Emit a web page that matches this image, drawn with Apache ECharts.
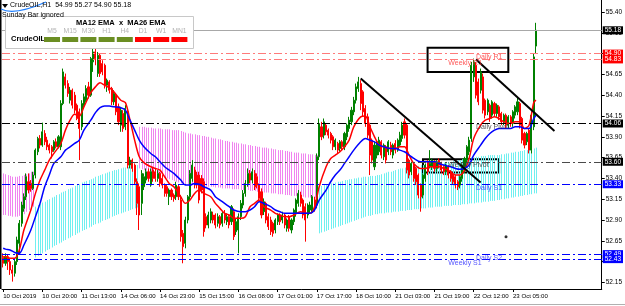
<!DOCTYPE html>
<html><head><meta charset="utf-8">
<script src="https://cdn.jsdelivr.net/npm/echarts@6/dist/echarts.min.js"></script>
<style>html,body{margin:0;padding:0;background:#fff}#c{width:625px;height:306px}</style>
</head><body><div id="c"></div>
<script>
// ---- data ----
const xTickLabels = ['10 Oct 2019','10 Oct 20:00','11 Oct 13:00','14 Oct 06:00','14 Oct 23:00','15 Oct 15:00','16 Oct 08:00','17 Oct 01:00','17 Oct 17:00','18 Oct 10:00','21 Oct 03:00','21 Oct 19:00','22 Oct 12:00','23 Oct 05:00'];
const barsPerLabel = 17;
const slotCount = 260;
const yTicks = [52.15,52.40,52.65,52.90,53.15,53.40,53.65,53.90,54.15,54.40,54.65,54.90,55.15,55.40];
// [open, close, low, high]
const ohlc = [
[52.45,52.38,52.33,52.50],[52.38,52.46,52.35,52.50],[52.46,52.40,52.30,52.49],[52.40,52.30,52.24,52.44],[52.30,52.26,52.16,52.36],
[52.26,52.40,52.22,52.44],[52.40,52.66,52.36,52.70],[52.62,52.86,52.48,52.90],[52.86,53.08,52.82,53.12],[53.04,53.18,53.00,53.22],
[53.18,53.42,53.14,53.46],[53.36,53.26,53.22,53.46],[53.34,53.28,53.24,53.38],[53.28,53.44,53.26,53.48],[53.44,53.74,53.40,53.76],
[53.72,53.88,53.68,53.90],[53.88,53.80,53.76,53.92],[53.80,53.96,53.78,54.07],[53.94,53.84,53.80,53.98],[53.86,53.78,53.74,53.90],
[53.80,53.74,53.70,53.82],[53.78,53.72,53.64,53.80],[53.74,53.84,53.72,53.86],[53.84,53.78,53.76,53.88],[53.78,53.90,53.76,53.92],
[53.78,54.30,53.74,54.34],[54.30,54.68,54.28,54.72],[54.62,54.52,54.48,54.66],[54.54,54.42,54.38,54.58],[54.34,54.46,54.30,54.50],
[54.46,54.28,54.24,54.48],[54.40,54.22,54.18,54.44],[54.28,54.12,54.10,54.30],[54.20,54.00,53.62,54.24],[54.02,54.30,53.98,54.34],
[54.28,54.38,54.24,54.42],[54.34,54.48,54.32,54.52],[54.50,54.40,54.36,54.56],[54.40,54.84,54.38,54.86],[54.80,54.92,54.68,54.96],
[54.92,54.84,54.76,55.04],[54.66,54.88,54.62,54.92],[54.88,54.66,54.62,54.90],[54.78,54.68,54.64,54.82],[54.76,54.52,54.48,54.78],
[54.52,54.58,54.44,54.60],[54.56,54.46,54.42,54.58],[54.48,54.32,54.28,54.50],[54.32,54.42,54.28,54.46],[54.40,54.20,54.16,54.42],
[54.26,54.08,54.04,54.30],[54.04,54.22,53.96,54.26],[54.18,54.00,53.96,54.22],[54.02,54.24,53.98,54.28],[54.20,53.56,53.52,54.24],
[53.56,53.62,53.52,53.66],[53.62,53.52,53.48,53.64],[53.56,53.36,53.32,53.58],[53.36,53.10,52.96,53.40],[53.30,52.96,52.78,53.34],
[53.10,53.46,52.96,53.50],[53.30,53.42,53.26,53.46],[53.38,53.48,53.34,53.52],[53.48,53.40,53.36,53.52],[53.32,53.48,53.30,53.52],
[53.50,53.40,53.36,53.54],[53.48,53.40,53.36,53.52],[53.40,53.46,53.36,53.50],[53.46,53.34,53.30,53.48],[53.40,53.32,53.28,53.44],
[53.32,53.22,53.18,53.34],[53.30,53.22,53.18,53.32],[53.18,53.26,53.08,53.28],[53.26,53.18,53.14,53.28],[53.20,53.16,53.12,53.22],
[53.18,53.32,53.14,53.36],[53.30,53.18,53.14,53.32],[53.14,52.70,52.64,53.20],[52.74,52.58,52.38,52.78],[52.62,52.90,52.56,52.94],
[52.90,53.18,52.86,53.20],[53.18,53.46,53.14,53.50],[53.40,53.56,53.36,53.62],[53.50,53.32,53.28,53.54],[53.44,53.32,53.28,53.48],
[53.44,53.14,53.10,53.48],[53.40,53.26,53.22,53.44],[53.36,52.76,52.70,53.40],[52.94,52.84,52.80,52.98],[52.84,52.96,52.80,53.00],
[52.90,53.00,52.86,53.04],[52.96,52.90,52.86,53.00],[52.96,52.84,52.80,52.98],[52.86,52.94,52.82,52.98],[52.94,52.84,52.80,52.96],
[52.86,52.98,52.82,53.00],[52.98,52.90,52.86,53.02],[52.88,52.94,52.84,52.98],[52.94,52.84,52.80,52.96],[52.88,53.06,52.84,53.08],
[53.00,52.70,52.66,53.04],[52.76,52.88,52.72,52.92],[52.78,52.94,52.50,52.98],[52.94,53.10,52.90,53.14],[53.08,53.22,53.04,53.26],
[53.22,53.34,53.18,53.38],[53.34,53.46,53.30,53.52],[53.46,53.38,53.34,53.50],[53.38,53.48,53.34,53.52],[53.46,53.30,53.26,53.50],
[53.42,53.32,53.28,53.46],[53.32,53.16,53.12,53.34],[53.24,52.96,52.92,53.28],[53.00,53.12,52.96,53.16],[53.10,52.90,52.86,53.12],
[52.94,52.82,52.78,52.98],[52.90,52.76,52.72,52.94],[52.86,52.74,52.70,52.88],[52.78,52.90,52.74,52.92],[52.88,52.96,52.84,52.98],
[52.96,52.88,52.84,52.98],[52.90,52.96,52.86,53.00],[52.96,52.84,52.80,52.98],[52.80,52.90,52.76,52.92],[52.94,52.80,52.76,52.96],
[52.78,52.90,52.74,52.92],[52.88,53.02,52.84,53.04],[52.98,53.14,52.94,53.16],[53.10,53.22,53.06,53.26],[53.20,53.10,53.06,53.24],
[53.14,52.96,52.92,53.16],[53.06,52.90,52.64,53.10],[52.96,53.08,52.92,53.10],[53.02,53.08,52.98,53.12],[53.02,53.18,52.98,53.20],
[53.14,53.04,53.00,53.18],[53.08,53.66,53.04,53.70],[53.66,54.06,53.62,54.12],[54.02,53.90,53.86,54.08],[53.92,54.08,53.88,54.12],
[54.04,53.96,53.92,54.06],[53.98,53.92,53.88,54.00],[53.94,53.86,53.82,53.96],[53.90,53.78,53.74,53.92],[53.78,53.86,53.74,53.88],
[53.82,53.74,53.70,53.84],[53.76,53.84,53.72,53.86],[53.84,53.78,53.74,53.86],[53.78,53.94,53.74,53.96],[53.90,54.04,53.86,54.06],
[54.00,54.10,53.96,54.14],[54.08,54.22,54.04,54.26],[54.20,54.34,54.16,54.38],[54.34,54.50,54.30,54.54],[54.48,54.56,54.44,54.62],
[54.54,54.30,54.22,54.58],[54.44,54.20,54.14,54.46],[54.24,54.06,54.02,54.28],[54.14,53.92,53.88,54.18],[54.04,53.68,53.44,54.06],
[53.86,53.62,53.58,53.88],[53.54,53.80,53.50,53.84],[53.68,53.84,53.64,53.86],[53.72,53.86,53.68,53.90],[53.84,53.68,53.64,53.86],
[53.66,53.80,53.62,53.82],[53.78,53.62,53.58,53.80],[53.72,53.84,53.68,53.86],[53.80,53.72,53.68,53.84],[53.68,53.80,53.64,53.82],
[53.82,53.74,53.70,53.86],[53.74,53.86,53.72,53.88],[53.80,53.92,53.78,53.96],[53.88,54.04,53.84,54.08],[54.08,53.92,53.88,54.12],
[54.04,53.50,53.46,54.06],[53.62,53.44,53.40,53.64],[53.48,53.58,53.44,53.60],[53.56,53.40,53.36,53.58],[53.52,53.36,53.32,53.54],
[53.44,53.20,53.16,53.46],[53.32,53.18,53.00,53.34],[53.20,53.44,53.16,53.46],[53.40,53.56,53.36,53.58],[53.60,53.48,53.44,53.62],
[53.54,53.58,53.52,53.74],[53.54,53.62,53.50,53.64],[53.60,53.52,53.48,53.62],[53.52,53.60,53.48,53.62],[53.62,53.56,53.52,53.64],
[53.58,53.50,53.46,53.60],[53.54,53.48,53.44,53.56],[53.48,53.56,53.44,53.58],[53.54,53.44,53.40,53.56],[53.48,53.40,53.36,53.50],
[53.44,53.36,53.32,53.46],[53.42,53.32,53.28,53.44],[53.36,53.30,53.26,53.38],[53.32,53.42,53.28,53.44],[53.40,53.56,53.36,53.58],
[53.50,53.64,53.46,53.66],[53.62,53.78,53.58,53.80],[53.72,53.86,53.68,53.90],[53.88,54.76,53.84,54.80],[54.62,54.80,54.56,54.84],
[54.76,54.40,54.36,54.80],[54.56,54.32,54.28,54.60],[54.46,54.68,54.42,54.72],[54.62,54.22,54.18,54.66],[54.34,54.16,54.12,54.36],
[54.20,54.34,54.16,54.36],[54.28,54.12,54.08,54.30],[54.16,54.32,54.12,54.34],[54.30,54.18,54.14,54.32],[54.18,54.28,54.14,54.30],
[54.26,54.14,54.10,54.28],[54.18,54.08,54.04,54.20],[54.08,54.16,54.04,54.18],[54.16,54.04,54.00,54.18],[54.04,54.14,54.00,54.16],
[54.14,54.06,54.02,54.16],[54.06,54.20,54.02,54.22],[54.16,54.26,54.12,54.28],[54.20,54.32,54.16,54.38],[54.30,54.04,54.00,54.32],
[54.12,53.86,53.82,54.14],[53.94,53.80,53.76,53.96],[53.84,53.94,53.80,53.96],[53.98,53.74,53.70,54.00],[53.74,54.16,53.70,54.20],
[54.02,54.86,53.98,54.90],[54.99,55.18,54.90,55.27]
];
const maIdx = [0,1,3,5,7,9,12,14,16,18, 20,22,25,27,29,31,33,35,38,40, 42,44,46,48,51,53,55,57,59,61, 64,66,68,70,72,74,77,79,81,83, 85,87,90,92,94,96,98,100,103,105, 107,109,111,113,116,118,120,122,124,126, 129,131,133,135,137,140,142,144,146,148, 150,152,155,157,159,161,163,165,168,170, 172,174,176,178,181,183,185,187,189,191, 194,196,198,200,202,204,207,209,211,213, 215,217,220,222,224,226,228,230, 231];
const ema12 = [52.46,52.46,52.44,52.44,52.54,52.78,53.02,53.22,53.38,53.50, 53.62,53.70,53.82,53.98,54.10,54.17,54.15,54.26,54.43,54.50, 54.55,54.52,54.49,54.44,54.34,54.31,54.10,53.86,53.66,53.59, 53.54,53.52,53.50,53.42,53.34,53.30,53.18,53.10,53.14,53.22, 53.26,53.22,53.18,53.10,53.04,52.98,52.96,52.92,52.92,52.94, 53.06,53.10,53.14,53.06,53.02,52.98,52.96,52.94,52.94,52.96, 53.00,52.98,52.98,53.06,53.30,53.54,53.64,53.68,53.72,53.78, 53.86,54.02,54.14,54.15,54.02,53.90,53.80,53.78,53.76,53.76, 53.78,53.78,53.68,53.58,53.52,53.52,53.54,53.54,53.54,53.52, 53.48,53.44,53.44,53.50,53.64,53.88,54.04,54.10,54.12,54.14, 54.12,54.08,54.06,54.08,54.08,54.00,54.04,54.31, 54.34];
const ema26 = [52.56,52.55,52.54,52.51,52.50,52.60,52.78,52.94,53.10,53.30, 53.44,53.58,53.66,53.74,53.78,53.82,53.86,53.98,54.10,54.19, 54.25,54.27,54.27,54.26,54.25,54.22,54.10,53.98,53.86,53.78, 53.70,53.66,53.60,53.54,53.50,53.46,53.38,53.32,53.32,53.34, 53.33,53.30,53.26,53.18,53.14,53.10,53.06,53.02,53.00,53.00, 53.02,53.06,53.12,53.10,53.06,53.02,53.00,52.98,52.98,52.98, 52.98,52.98,52.98,53.02,53.14,53.26,53.36,53.44,53.50,53.58, 53.66,53.74,53.84,53.88,53.86,53.84,53.80,53.78,53.76,53.76, 53.74,53.72,53.68,53.64,53.60,53.60,53.60,53.60,53.58,53.56, 53.54,53.52,53.51,53.52,53.56,53.68,53.80,53.88,53.94,53.98, 54.00,54.00,54.00,54.02,54.02,54.00,54.00,54.12, 54.16];
const spanA = [
52.96,52.96,52.95,52.95,52.94,52.94,52.94,52.95,52.96,52.97,53.00,53.02,53.04,53.06,
53.06,53.08,53.09,53.11,53.12,53.14,53.15,53.17,53.18,53.20,53.21,53.23,53.24,53.25,53.27,53.28,53.29,53.31,53.32,53.33,
53.35,53.36,53.37,53.38,53.39,53.40,53.42,53.43,53.44,53.45,53.46,53.47,53.48,53.49,53.50,53.50,53.51,53.52,53.53,53.53,
53.54,53.55,53.55,53.56,53.56,
53.52,53.51,53.50,53.49,53.48,53.47,53.46,53.45,53.44,53.43,53.42,53.41,53.40,53.39,53.38,53.37,53.36,53.35,53.34,53.34,
53.33,53.33,53.33,53.32,53.32,53.32,53.31,53.31,53.31,53.30,53.30,53.30,53.30,53.29,53.29,53.29,53.28,53.28,53.28,53.28,
53.27,53.27,53.27,53.27,53.26,53.26,53.26,53.26,53.25,53.25,53.25,53.24,53.24,53.24,53.23,53.23,53.23,53.22,53.22,53.22,
53.21,53.21,53.21,53.20,53.20,53.20,53.19,53.19,53.19,53.18,53.18,53.18,53.17,53.17,53.17,53.16,53.16,53.16,
53.30,53.31,53.32,53.32,53.33,53.34,53.34,53.35,53.36,53.36,53.37,53.38,53.38,53.39,53.39,53.40,53.40,53.41,53.41,53.42,
53.42,53.42,53.43,53.43,53.43,53.44,53.44,53.45,53.46,53.47,53.48,53.48,53.49,53.50,53.51,53.52,53.52,53.53,53.53,53.54,
53.54,53.55,53.55,53.55,53.56,53.56,53.57,53.57,53.57,53.58,53.58,53.58,53.59,53.59,53.59,53.60,53.60,53.60,53.61,53.61,
53.62,53.62,53.63,53.63,53.64,53.64,53.65,53.65,53.66,53.66,53.67,53.67,53.67,53.68,53.68,53.68,53.68,53.68,53.68,53.69,
53.69,53.70,53.70,53.71,53.71,53.72,53.72,53.73,53.73,53.74,53.74,53.75,53.75,53.76,53.77
];
const spanB = [
53.46,53.45,53.44,53.43,53.42,53.42,53.42,53.43,53.43,53.44,53.45,53.46,53.48,53.48,
52.45,52.47,52.49,52.50,52.52,52.54,52.55,52.57,52.59,52.60,52.62,52.63,52.65,52.66,52.68,52.69,52.71,52.72,52.74,52.75,
52.77,52.78,52.79,52.81,52.82,52.84,52.85,52.86,52.87,52.89,52.90,52.91,52.92,52.94,52.95,52.96,52.97,52.98,52.99,53.00,
53.01,53.02,53.03,53.04,53.05,
54.02,54.02,54.02,54.01,54.01,54.01,54.00,54.00,54.00,54.00,53.99,53.99,53.99,53.99,53.98,53.98,53.98,53.98,53.97,53.96,
53.95,53.94,53.94,53.93,53.93,53.92,53.92,53.91,53.91,53.90,53.90,53.89,53.88,53.88,53.87,53.87,53.86,53.85,53.85,53.84,
53.84,53.83,53.83,53.82,53.82,53.81,53.81,53.80,53.80,53.79,53.79,53.78,53.78,53.77,53.77,53.77,53.76,53.76,53.75,53.75,
53.74,53.74,53.74,53.73,53.73,53.72,53.72,53.71,53.71,53.71,53.70,53.70,53.70,53.69,53.69,53.69,53.68,53.68,
52.74,52.75,52.76,52.77,52.78,52.79,52.80,52.81,52.82,52.83,52.84,52.85,52.86,52.87,52.88,52.89,52.90,52.91,52.92,52.93,
52.94,52.95,52.95,52.96,52.97,52.97,52.98,52.98,52.98,52.99,52.99,52.99,53.00,53.00,53.00,53.01,53.01,53.01,53.02,53.02,
53.02,53.03,53.03,53.03,53.04,53.04,53.04,53.05,53.05,53.05,53.06,53.06,53.06,53.06,53.07,53.07,53.07,53.07,53.08,53.08,
53.08,53.08,53.09,53.09,53.09,53.10,53.10,53.10,53.11,53.11,53.11,53.12,53.12,53.12,53.13,53.13,53.13,53.14,53.14,53.15,
53.15,53.16,53.16,53.17,53.17,53.18,53.18,53.19,53.19,53.20,53.20,53.21,53.21,53.22,53.22
];
const levelNames = ['Daily R1','Weekly R1','Daily Pivot','Weekly Pivot','Daily S1','Daily S2','Weekly S1'];
const levelValues = [54.90,54.83,54.06,53.60,53.33,52.49,52.43];
const lastPrice = 55.18;
const header = {symbol:'CrudeOIL', tf:'H1', o:54.99, h:55.27, l:54.90, c:55.18};
const trendLines = [[[155,54.60],[207,53.35]],[[205,54.83],[239,53.97]]];
const boxes = [[[184,54.97],[219,54.68]],[[182,53.63],[215,53.47]]];
const objectDots = [[218,52.70]];
const timeframes = ['M5','M15','M30','H1','H4','D1','W1','MN1'];
const tfTrend = ['up','up','up','up','up','down','down','down'];

// ---- build ----
const FONT = 'Liberation Sans, Arial, sans-serif';
const categories = [];
for (let i = 0; i < slotCount; i++) {
  categories.push(i % barsPerLabel === 0 && (i / barsPerLabel) < xTickLabels.length ? xTickLabels[i / barsPerLabel] : '');
}
function levelStyle(name) {
  if (name.indexOf('R1') >= 0) return {line:'#ff7a7a', box:'#ff0000', text:'#ff3030'};
  if (name === 'Daily Pivot') return {line:'#000000', box:'#000000', text:'#303030'};
  if (name === 'Weekly Pivot') return {line:'#4a4a4a', box:'#000000', text:'#303030'};
  return {line:'#0000ff', box:'#0000ff', text:'#2a2aff'};
}
const dashDot = [8,3,2,3];
const levelLines = levelNames.map((n, k) => {
  const s = levelStyle(n);
  return {yAxis: levelValues[k], lineStyle:{color:s.line, type:dashDot, width:1},
    label:{show:true, position:'end', formatter: levelValues[k].toFixed(2), color:'#fff', backgroundColor:s.box,
      fontSize:6.5, fontFamily:FONT, padding:[1,2,0,2], distance:1}};
});
levelLines.push({yAxis:lastPrice, lineStyle:{color:'#a8a8a8', type:'solid', width:1},
  label:{show:true, position:'end', formatter:lastPrice.toFixed(2), color:'#fff', backgroundColor:'#000',
    fontSize:6.5, fontFamily:FONT, padding:[1,2,0,2], distance:1}});
const trendMark = trendLines.map(t => [{coord:t[0], lineStyle:{color:'#000', width:2, type:'solid'}}, {coord:t[1]}]);
const boxMark = boxes.map(b => [{coord:b[0]}, {coord:b[1]}]);
const levelTextData = levelNames.map((n, k) => ({
  value:[n.indexOf('Daily') === 0 ? 205 : 193, levelValues[k]], name:n,
  label:{color:levelStyle(n).text}
}));

const chart = echarts.init(document.getElementById('c'), null, {renderer:'canvas'});
const graphics = [
  {type:'rect', shape:{x:0, y:0, width:1.5, height:289}, style:{fill:'#000'}, z:100},
  {type:'polygon', shape:{points:[[2,4],[8,4],[5,8]]}, style:{fill:'#000'}, z:100},
  {type:'bezierCurve', shape:{x1:1, y1:9, x2:46, y2:2, cpx1:14, cpy1:16}, style:{stroke:'#1e7fff', lineWidth:1.3, fill:null}, z:100},
  {type:'text', left:10, top:2, style:{text: header.symbol + ',' + header.tf + '  ' + [header.o,header.h,header.l,header.c].map(v=>v.toFixed(2)).join(' '), fontSize:7, fontFamily:FONT, fill:'#000'}, z:100},
  {type:'rect', shape:{x:5.5, y:16.5, width:188, height:32}, style:{fill:'#fff', stroke:'#c8c8c8', lineWidth:1}, z:100},
  {type:'text', left:2, top:12, style:{text:'Sunday Bar ignored', fontSize:7, fontFamily:FONT, fill:'#000'}, z:101},
  {type:'text', x:121, y:19, style:{text:'MA12 EMA  x  MA26 EMA', fontSize:7.5, fontWeight:'bold', fontFamily:FONT, fill:'#000', align:'center'}, z:101},
  {type:'text', x:11, y:35, style:{text:header.symbol, fontSize:7.5, fontWeight:'bold', fontFamily:FONT, fill:'#000'}, z:101},
  {type:'rect', shape:{x:0, y:304, width:625, height:1}, style:{fill:'#b0b0b0'}, z:100}
];
timeframes.forEach((tf, k) => {
  const x0 = 44 + k * 18.2;
  graphics.push({type:'text', x:x0 + 8, y:28, style:{text:tf, fontSize:6.8, fontFamily:FONT, fill:'#b4b4b4', align:'center'}, z:101});
  graphics.push({type:'rect', shape:{x:x0, y:37, width:16, height:5}, style:{fill: tfTrend[k] === 'up' ? '#6b8e23' : '#ff0000'}, z:101});
});

chart.setOption({
  animation:false,
  backgroundColor:'#fff',
  grid:{left:2, right:23, top:0, bottom:17},
  xAxis:{type:'category', data:categories, boundaryGap:true,
    axisLine:{show:true, lineStyle:{color:'#000', width:1}},
    axisTick:{show:true, alignWithLabel:true, length:3, interval:(i, v) => v !== '', lineStyle:{color:'#000'}},
    axisLabel:{interval:0, align:'left', margin:4, fontSize:6.1, fontFamily:FONT, color:'#000'},
    splitLine:{show:false}},
  yAxis:{type:'value', position:'right', min:52.071, max:55.544, scale:true,
    axisLine:{show:true, lineStyle:{color:'#000', width:1}},
    axisTick:{show:true, length:3, customValues:yTicks, lineStyle:{color:'#000'}},
    axisLabel:{show:true, customValues:yTicks, formatter:v => v.toFixed(2), margin:4, fontSize:6.5, fontFamily:FONT, color:'#000'},
    splitLine:{show:false}},
  graphic: graphics,
  series:[
    {type:'custom', name:'kumo', z:1, silent:true,
      data: spanA.map((a, i) => [i, a, spanB[i]]),
      encode:{x:0, y:[1,2]},
      renderItem:(params, api) => {
        const i = api.value(0), a = api.value(1), b = api.value(2);
        const p1 = api.coord([i, a]), p2 = api.coord([i, b]);
        const x = Math.round(p1[0]) + 0.5;
        return {type:'line', shape:{x1:x, y1:p1[1], x2:x, y2:p2[1]},
          style:{stroke: a >= b ? '#6ff0f0' : '#f084f0', lineWidth:1}};
      }},
    {type:'line', name:'levels', data:[], z:2, silent:true,
      markLine:{silent:true, symbol:['none','none'], data:levelLines, animation:false}},
    {type:'candlestick', name:'CrudeOIL', data:ohlc, z:3, barWidth:1.6,
      itemStyle:{color:'#008000', color0:'#ff0000', borderColor:'#008000', borderColor0:'#ff0000', borderWidth:1}},
    {type:'line', name:'MA12 EMA', data: maIdx.map((x, k) => [x, ema12[k]]), z:4, smooth:0.3, symbol:'none',
      lineStyle:{color:'#ff0000', width:1.5}},
    {type:'line', name:'MA26 EMA', data: maIdx.map((x, k) => [x, ema26[k]]), z:4, smooth:0.3, symbol:'none',
      lineStyle:{color:'#0000ff', width:1.5},
      markLine:{silent:true, symbol:['none','none'], data:trendMark, label:{show:false}, animation:false},
      markArea:{silent:true, data:boxMark, itemStyle:{color:'rgba(0,0,0,0)', borderColor:'#000', borderWidth:2}, label:{show:false}}},
    {type:'scatter', name:'levelText', data:levelTextData, symbolSize:0, z:5, silent:true,
      label:{show:true, formatter:'{b}', position:[0,0], align:'left', verticalAlign:'top', fontSize:7, fontFamily:FONT}},
    {type:'scatter', name:'objects', data:objectDots, symbolSize:3, z:5, silent:true, itemStyle:{color:'#000'}}
  ]
});
</script>
</body></html>
